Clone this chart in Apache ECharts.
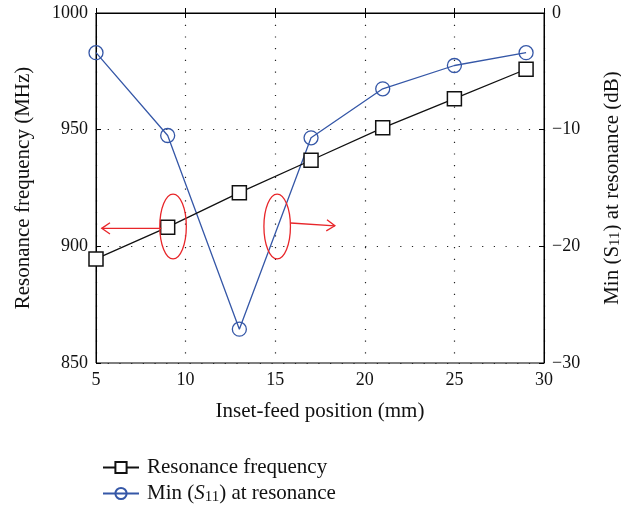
<!DOCTYPE html>
<html>
<head>
    <meta charset="utf-8">
    <title>Resonance frequency vs inset-feed position</title>
    <script src="https://cdn.jsdelivr.net/npm/echarts@6/dist/echarts.min.js"></script>
    <style>
        body { margin: 0; background: #fff; }
    </style>
</head>
<body>

<div id="main" style="width: 621px;height:505px;"></div>
<script type="text/javascript">
    // data
    var insetPos = [5, 9, 13, 17, 21, 25, 29];
    var resFreq = [894.6, 908.2, 923.0, 936.9, 950.8, 963.3, 975.9];
    var minS11 = [-3.4, -10.5, -27.1, -10.7, -6.5, -4.5, -3.4];
    var xTicks = [5, 10, 15, 20, 25, 30];
    var freqTicks = [850, 900, 950, 1000];
    var s11Ticks = [-30, -20, -10, 0];

    // red ellipse + arrow annotations, in data units (x, MHz)
    var ovals = [[9.30, 908.5], [15.11, 908.5]];
    var arrows = [[[8.65, 907.7], [5.32, 907.7]], [[15.86, 910.0], [18.33, 908.8]]];

    var serif = '"Liberation Serif", "DejaVu Serif", serif';
    var blue = '#3557a7';
    var red = '#e8262a';
    var nameSize = 21;

    var myChart = echarts.init(document.getElementById('main'));

    function pairs(xs, ys) {
        var out = [];
        for (var i = 0; i < xs.length; i++) out.push([xs[i], ys[i]]);
        return out;
    }

    var dotted = { show: true, lineStyle: { color: '#222', width: 1.2, type: [1.2, 10.5] } };

    var legendText = {
        fontFamily: serif, fontSize: nameSize, color: '#111', padding: [0, 0, 0, 3],
        rich: {
            a: { fontFamily: serif, fontSize: nameSize, lineHeight: 22, color: '#111' },
            s: { fontFamily: serif, fontSize: nameSize, lineHeight: 22, fontStyle: 'italic', color: '#111' },
            sub: { fontFamily: serif, fontSize: 15, lineHeight: 14, verticalAlign: 'bottom', color: '#111' }
        }
    };
    function legendFmt(name) {
        if (name.indexOf('S11') >= 0) return '{a|Min (}{s|S}{sub|11}{a|) at resonance}';
        return '{a|' + name + '}';
    }

    var option = {
        animation: false,
        backgroundColor: '#fff',
        textStyle: { fontFamily: serif },
        grid: {
            left: 96, right: 77, top: 13, bottom: 142,
            outerBoundsMode: 'none', containLabel: false,
            show: true, borderColor: '#000', borderWidth: 1
        },
        legend: [{
            left: 97, top: 452,
            itemWidth: 36, itemHeight: 14,
            data: ['Resonance frequency'],
            formatter: legendFmt,
            textStyle: legendText
        }, {
            left: 97, top: 478,
            itemWidth: 36, itemHeight: 14,
            data: ['Min (S11) at resonance'],
            formatter: legendFmt,
            textStyle: legendText
        }],
        xAxis: [{
            type: 'value',
            min: xTicks[0], max: xTicks[xTicks.length - 1], interval: 5,
            name: 'Inset-feed position (mm)',
            nameLocation: 'middle', nameGap: 38,
            nameTextStyle: { fontFamily: serif, fontSize: nameSize, color: '#111' },
            axisLine: { lineStyle: { color: '#000' } },
            axisTick: { inside: true, length: 5, lineStyle: { color: '#000' } },
            axisLabel: { fontFamily: serif, fontSize: 18, color: '#111', margin: 8 },
            splitLine: dotted
        }, {
            type: 'value', position: 'top',
            min: xTicks[0], max: xTicks[xTicks.length - 1], interval: 5,
            axisLine: { show: true, lineStyle: { color: '#000' } },
            axisTick: { inside: true, length: 5, lineStyle: { color: '#000' } },
            axisLabel: { show: false },
            splitLine: { show: false }
        }],
        yAxis: [{
            type: 'value',
            min: freqTicks[0], max: freqTicks[freqTicks.length - 1], interval: 50,
            name: 'Resonance frequency (MHz)',
            nameLocation: 'middle', nameGap: 62, nameRotate: 90,
            nameTextStyle: { fontFamily: serif, fontSize: nameSize, color: '#111' },
            axisLine: { show: true, lineStyle: { color: '#000' } },
            axisTick: { inside: true, length: 5, lineStyle: { color: '#000' } },
            axisLabel: {
                fontFamily: serif, fontSize: 18, color: '#111', margin: 8,
                formatter: function (v) { return String(v); }
            },
            splitLine: dotted
        }, {
            type: 'value', position: 'right',
            min: s11Ticks[0], max: s11Ticks[s11Ticks.length - 1], interval: 10,
            name: '{a|Min (S}{sub|11}{a|) at resonance (dB)}',
            nameLocation: 'middle', nameGap: 57, nameRotate: 90,
            nameTextStyle: {
                fontFamily: serif, fontSize: nameSize, color: '#111',
                rich: {
                    a: { fontFamily: serif, fontSize: nameSize, lineHeight: 22, color: '#111' },
                    sub: { fontFamily: serif, fontSize: 15, lineHeight: 14, verticalAlign: 'bottom', color: '#111' }
                }
            },
            axisLine: { show: true, lineStyle: { color: '#000' } },
            axisTick: { inside: true, length: 5, lineStyle: { color: '#000' } },
            axisLabel: {
                fontFamily: serif, fontSize: 18, color: '#111', margin: 8,
                formatter: function (v) { return v < 0 ? '\u2212' + (-v) : String(v); }
            },
            splitLine: { show: false }
        }],
        series: [{
            name: 'Resonance frequency',
            type: 'line',
            xAxisIndex: 0, yAxisIndex: 0,
            data: pairs(insetPos, resFreq),
            symbol: 'rect', symbolSize: 14,
            itemStyle: { color: '#fff', borderColor: '#111', borderWidth: 1.5 },
            lineStyle: { color: '#111', width: 1.3 },
            z: 3
        }, {
            name: 'Min (S11) at resonance',
            type: 'line',
            xAxisIndex: 0, yAxisIndex: 1,
            data: pairs(insetPos, minS11),
            symbol: 'circle', symbolSize: 14,
            itemStyle: { color: 'rgba(255,255,255,0)', borderColor: blue, borderWidth: 1.3 },
            lineStyle: { color: blue, width: 1.3 },
            z: 2
        }]
    };
    myChart.setOption(option);

    // annotations placed through the axis scales
    function toPx(p) {
        return myChart.convertToPixel({ xAxisIndex: 0, yAxisIndex: 0 }, p);
    }
    var els = [];
    ovals.forEach(function (o) {
        var c = toPx(o);
        var e = toPx([o[0] + 0.74, o[1] + 13.9]);
        els.push({
            type: 'ellipse',
            shape: { cx: c[0], cy: c[1], rx: Math.abs(e[0] - c[0]), ry: Math.abs(c[1] - e[1]) },
            style: { fill: null, stroke: red, lineWidth: 1.3 },
            z: 10
        });
    });
    arrows.forEach(function (a) {
        var p0 = toPx(a[0]), p1 = toPx(a[1]);
        var ang = Math.atan2(p1[1] - p0[1], p1[0] - p0[0]);
        var L = 10, w = 0.6;
        var h1 = [p1[0] - L * Math.cos(ang - w), p1[1] - L * Math.sin(ang - w)];
        var h2 = [p1[0] - L * Math.cos(ang + w), p1[1] - L * Math.sin(ang + w)];
        els.push({
            type: 'line',
            shape: { x1: p0[0], y1: p0[1], x2: p1[0], y2: p1[1] },
            style: { stroke: red, lineWidth: 1.3 },
            z: 10
        });
        els.push({
            type: 'polyline',
            shape: { points: [h1, p1, h2] },
            style: { fill: null, stroke: red, lineWidth: 1.3 },
            z: 10
        });
    });
    myChart.setOption({ graphic: els });
</script>
</body>
</html>
